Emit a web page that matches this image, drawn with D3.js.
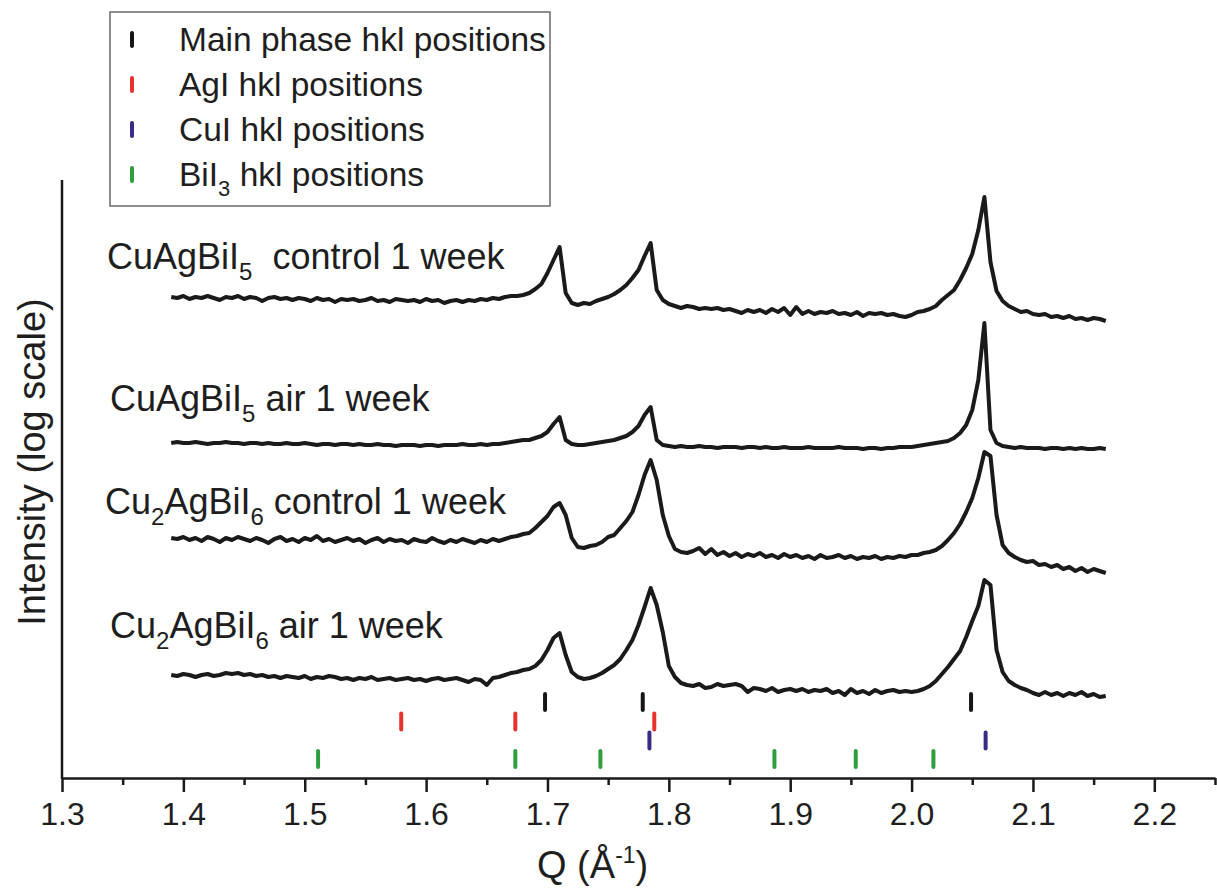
<!DOCTYPE html>
<html>
<head>
<meta charset="utf-8">
<script src="https://cdn.jsdelivr.net/npm/d3@7"></script>
<style>
  body { margin: 0; background: #fff; }
  text { font-family: "Liberation Sans", Arial, sans-serif; fill: #1e1e1e; }
</style>
</head>
<body>
<div id="chart"></div>
<script>
// Q grid of the scans (start + step), intensities are log, per pattern, stacked with offsets
var qStart = 1.39, qStep = 0.005;

var seriesNames = ["CuAgBiI5 control 1 week", "CuAgBiI5 air 1 week",
                   "Cu2AgBiI6 control 1 week", "Cu2AgBiI6 air 1 week"];
var offsets = [47.8, 33.3, 23.3, 9.8];

var s1 = [
  0.3, 0.2, 0.4, 0.1, 0.3, 0.2, 0.4, 0.2, 0.0, 0.3,
  0.2, 0.4, 0.1, 0.3, 0.2, -0.1, 0.2, 0.3, 0.1, 0.2,
  0.0, 0.2, 0.1, -0.1, 0.2, 0.0, 0.1, -0.2, 0.1, 0.0,
  0.1, -0.1, 0.0, 0.2, -0.1, 0.0, -0.2, 0.1, 0.0, -0.1,
  0.0, -0.2, 0.1, -0.1, 0.0, -0.3, -0.1, 0.0, -0.2, 0.0,
  -0.1, 0.1, 0.0, 0.2, 0.1, 0.3, 0.4, 0.4, 0.5, 0.7,
  1.1, 1.6, 2.7, 4.0, 5.3, 0.7, -0.3, -0.5, -0.3, -0.4,
  -0.1, 0.1, 0.3, 0.6, 1.0, 1.5, 2.2, 3.0, 4.4, 5.7,
  1.0, 0.0, -0.4, -0.6, -0.8, -0.6, -0.7, -0.9, -0.8, -0.9,
  -0.8, -1.0, -0.9, -1.1, -1.3, -1.0, -1.2, -1.0, -1.3, -0.9,
  -1.2, -0.8, -1.5, -0.7, -1.4, -1.1, -1.4, -1.2, -1.3, -1.1,
  -1.4, -1.3, -1.5, -1.2, -1.6, -1.3, -1.4, -1.3, -1.5, -1.4,
  -1.6, -1.7, -1.5, -1.2, -1.1, -0.9, -0.6, 0.0, 0.5, 1.0,
  2.0, 3.2, 4.6, 7.0, 10.3, 3.8, 0.9, -0.1, -0.6, -0.9,
  -1.2, -1.1, -1.4, -1.5, -1.4, -1.7, -1.6, -1.8, -1.6, -1.9,
  -1.8, -2.0, -1.8, -1.9, -2.1
];

var s2 = [
  0.2, 0.3, 0.2, 0.2, 0.3, 0.2, 0.1, 0.2, 0.2, 0.3,
  0.2, 0.2, 0.1, 0.2, 0.2, 0.1, 0.2, 0.1, 0.1, 0.2,
  0.1, 0.1, 0.2, 0.1, 0.0, 0.1, 0.1, 0.0, 0.1, 0.1,
  0.0, 0.1, 0.0, 0.0, 0.1, 0.0, 0.0, -0.1, 0.0, 0.0,
  0.0, -0.1, 0.0, 0.0, -0.1, 0.0, 0.0, 0.0, 0.1, 0.0,
  0.0, 0.1, 0.0, 0.1, 0.1, 0.2, 0.3, 0.4, 0.5, 0.5,
  0.7, 0.9, 1.3, 2.1, 2.8, 0.5, 0.1, 0.0, 0.0, 0.1,
  0.2, 0.3, 0.4, 0.5, 0.7, 0.9, 1.3, 1.9, 3.0, 3.8,
  0.5, 0.0, -0.1, -0.2, -0.1, -0.2, -0.2, -0.1, -0.2, -0.2,
  -0.3, -0.2, -0.2, -0.2, -0.3, -0.2, -0.2, -0.3, -0.2, -0.3,
  -0.3, -0.2, -0.3, -0.3, -0.3, -0.2, -0.3, -0.3, -0.3, -0.3,
  -0.2, -0.3, -0.3, -0.3, -0.4, -0.3, -0.3, -0.4, -0.3, -0.3,
  -0.2, -0.2, -0.2, -0.1, 0.0, 0.1, 0.2, 0.3, 0.4, 0.7,
  1.2, 2.0, 3.5, 6.5, 12.2, 1.5, 0.2, -0.1, -0.2, -0.3,
  -0.2, -0.3, -0.3, -0.3, -0.4, -0.3, -0.3, -0.4, -0.3, -0.4,
  -0.3, -0.4, -0.4, -0.3, -0.4
];

var s3 = [
  0.7, 0.6, 0.8, 0.5, 0.7, 0.4, 0.8, 0.6, 0.3, 0.7,
  0.5, 0.8, 0.6, 0.4, 0.7, 0.5, 0.2, 0.6, 0.8, 0.4,
  0.6, 0.3, 0.7, 0.5, 0.9, 0.4, 0.6, 0.3, 0.5, 0.7,
  0.4, 0.6, 0.2, 0.5, 0.7, 0.3, 0.6, 0.4, 0.5, 0.2,
  0.6, 0.4, 0.3, 0.7, 0.4, 0.2, 0.5, 0.3, 0.6, 0.4,
  0.2, 0.5, 0.3, 0.6, 0.4, 0.6, 0.8, 0.9, 1.1, 1.2,
  1.7, 2.3, 2.9, 3.8, 4.2, 3.0, 0.7, -0.2, -0.3, -0.1,
  0.0, 0.3, 0.8, 1.0, 1.7, 2.4, 3.3, 5.0, 7.0, 8.5,
  6.5, 3.0, 0.9, -0.4, -0.7, -0.8, -0.6, -0.3, -0.9, -0.4,
  -1.0, -0.7, -1.1, -0.8, -1.2, -0.9, -1.1, -0.8, -1.2, -1.0,
  -1.3, -0.9, -1.2, -1.0, -1.3, -1.1, -1.4, -1.0, -1.3, -1.2,
  -1.0, -1.3, -1.1, -1.4, -1.2, -1.3, -1.1, -1.4, -1.2, -1.3,
  -1.1, -1.2, -1.0, -1.0, -0.8, -0.7, -0.5, -0.1, 0.5, 1.2,
  2.1, 3.3, 4.7, 6.7, 9.3, 8.9, 3.0, 0.0, -0.8, -1.2,
  -1.5, -1.7, -1.6, -2.0, -1.9, -2.2, -2.0, -2.4, -2.2, -2.6,
  -2.3, -2.7, -2.4, -2.6, -2.8
];

var s4 = [
  0.5, 0.4, 0.6, 0.5, 0.3, 0.5, 0.6, 0.4, 0.5, 0.7,
  0.6, 0.7, 0.5, 0.6, 0.4, 0.5, 0.3, 0.4, 0.2, 0.4,
  0.3, 0.2, 0.4, 0.1, 0.3, 0.2, 0.4, 0.3, 0.1, 0.2,
  0.0, 0.2, 0.1, 0.3, 0.0, 0.1, 0.2, 0.0, 0.1, 0.2,
  0.0, 0.1, -0.1, 0.1, 0.2, 0.0, 0.1, 0.2, 0.0, -0.2,
  0.1, 0.0, -0.5, 0.2, 0.3, 0.5, 0.7, 0.8, 1.0, 1.1,
  1.4, 2.0, 3.0, 4.2, 4.7, 2.5, 0.8, 0.3, 0.1, 0.2,
  0.4, 0.7, 1.1, 1.5, 2.1, 3.0, 4.0, 5.5, 7.3, 9.2,
  7.5, 4.8, 1.4, 0.3, -0.3, -0.5, -0.6, -0.4, -0.8, -0.7,
  -0.4, -0.6, -0.5, -0.4, -0.6, -1.2, -0.8, -0.9, -1.1, -0.8,
  -1.2, -1.0, -0.9, -1.1, -0.9, -1.2, -1.0, -1.1, -0.9, -1.3,
  -1.1, -1.5, -0.9, -1.3, -1.1, -1.4, -1.0, -1.3, -1.1, -1.0,
  -1.2, -1.1, -1.2, -1.1, -0.9, -0.6, -0.1, 0.6, 1.3, 2.1,
  2.9, 4.3, 5.9, 7.4, 10.0, 9.5, 3.0, 0.8, -0.1, -0.5,
  -0.8, -1.0, -1.3, -1.5, -1.2, -1.5, -1.3, -1.6, -1.3, -1.5,
  -1.2, -1.6, -1.4, -1.7, -1.6
];

// reflection markers (Q of hkl positions)
var mainHkl = [1.698, 1.7785, 2.049];
var agiHkl = [1.5795, 1.6735, 1.788];
var cuiHkl = [1.784, 2.061];
var bii3Hkl = [1.511, 1.6735, 1.7436, 1.887, 1.954, 2.018];

var xTicks = [1.3, 1.4, 1.5, 1.6, 1.7, 1.8, 1.9, 2.0, 2.1, 2.2];
var xMinor = [1.35, 1.45, 1.55, 1.65, 1.75, 1.85, 1.95, 2.05, 2.15, 2.25];

var W = 1217, H = 888;
var margin = {top: 180, right: 2, bottom: 110, left: 62};
var width = W - margin.left - margin.right,
    height = H - margin.top - margin.bottom;

var svg = d3.select("#chart").append("svg")
    .attr("width", W)
    .attr("height", H);

var g = svg.append("g")
    .attr("transform", "translate(" + margin.left + "," + margin.top + ")");

var x = d3.scaleLinear().domain([1.3, 2.25]).range([0, width]);
var y = d3.scaleLinear().domain([0, 59.8]).range([height, 0]);

// stacked patterns
var allSeries = [s1, s2, s3, s4];
var line = d3.line()
    .x(function (d) { return x(d.q); })
    .y(function (d) { return y(d.v); });

allSeries.forEach(function (vals, k) {
  var pts = vals.map(function (v, i) {
    return {q: qStart + i * qStep, v: v + offsets[k]};
  });
  g.append("path")
    .datum(pts)
    .attr("fill", "none")
    .attr("stroke", "#1a1a1a")
    .attr("stroke-width", 4)
    .attr("stroke-linejoin", "round")
    .attr("d", line);
});

// hkl tick rows (row = centre of the row in intensity units)
var hklRows = [
  {name: "Main phase hkl positions", q: mainHkl, color: "#161616", row: 7.6, sub: null},
  {name: "AgI hkl positions", q: agiHkl, color: "#e8322e", row: 5.65, sub: null},
  {name: "CuI hkl positions", q: cuiHkl, color: "#3b2a86", row: 3.75, sub: null},
  {name: "BiI", q: bii3Hkl, color: "#2e9e3e", row: 1.9, sub: "3"}
];

hklRows.forEach(function (r) {
  g.selectAll(null)
    .data(r.q)
    .enter().append("line")
    .attr("x1", function (d) { return x(d); })
    .attr("x2", function (d) { return x(d); })
    .attr("y1", y(r.row) - 8)
    .attr("y2", y(r.row) + 8)
    .attr("stroke", r.color)
    .attr("stroke-width", 4)
    .attr("stroke-linecap", "round");
});

// axes
var xAxis = d3.axisBottom(x)
    .tickValues(xTicks)
    .tickSize(14)
    .tickSizeOuter(0)
    .tickPadding(10)
    .tickFormat(d3.format(".1f"));

var gx = g.append("g")
    .attr("transform", "translate(0," + height + ")")
    .call(xAxis);
gx.select(".domain").attr("stroke", "#1a1a1a").attr("stroke-width", 2.5);
gx.selectAll(".tick line").attr("stroke", "#1a1a1a").attr("stroke-width", 2.5);
gx.selectAll(".tick text")
    .style("font-family", "'Liberation Sans', Arial, sans-serif")
    .style("font-size", "32px")
    .attr("fill", "#1e1e1e");

var gxm = g.append("g")
    .attr("transform", "translate(0," + height + ")")
    .call(d3.axisBottom(x).tickValues(xMinor).tickSize(7).tickSizeOuter(0).tickFormat(""));
gxm.select(".domain").remove();
gxm.selectAll(".tick line").attr("stroke", "#1a1a1a").attr("stroke-width", 2.5);

g.append("line")
    .attr("x1", 0).attr("x2", 0)
    .attr("y1", 0).attr("y2", height + 1)
    .attr("stroke", "#1a1a1a")
    .attr("stroke-width", 2.5);

// axis titles
var qt = svg.append("text")
    .attr("x", 537)
    .attr("y", 878)
    .style("font-size", "38px");
qt.append("tspan").text("Q (Å");
qt.append("tspan").attr("dy", -15).style("font-size", "23px").text("-1");
qt.append("tspan").attr("dy", 15).text(")");

svg.append("text")
    .attr("transform", "translate(45,462) rotate(-90)")
    .attr("text-anchor", "middle")
    .style("font-size", "38px")
    .text("Intensity (log scale)");

// pattern labels, with subscripts
var labels = [
  {parts: [["CuAgBiI", 0], ["5", 1], ["  control 1 week", 0]], x: 107, y: 269},
  {parts: [["CuAgBiI", 0], ["5", 1], [" air 1 week", 0]], x: 110, y: 411},
  {parts: [["Cu", 0], ["2", 1], ["AgBiI", 0], ["6", 1], [" control 1 week", 0]], x: 105, y: 514},
  {parts: [["Cu", 0], ["2", 1], ["AgBiI", 0], ["6", 1], [" air 1 week", 0]], x: 110, y: 638}
];

function subText(sel, parts, big, small, shift) {
  var down = false;
  parts.forEach(function (p) {
    var t = sel.append("tspan").text(p[0]);
    if (p[1] && !down) { t.attr("dy", shift).style("font-size", small + "px"); down = true; }
    else if (p[1]) { t.style("font-size", small + "px"); }
    else if (down) { t.attr("dy", -shift).style("font-size", big + "px"); down = false; }
  });
}

labels.forEach(function (l) {
  var t = svg.append("text")
      .attr("x", l.x)
      .attr("y", l.y)
      .attr("xml:space", "preserve")
      .style("white-space", "pre")
      .style("font-size", "36px");
  subText(t, l.parts, 36, 24, 11);
});

// legend
var leg = svg.append("g");
leg.append("rect")
    .attr("x", 110).attr("y", 12)
    .attr("width", 440).attr("height", 194)
    .attr("fill", "#fff")
    .attr("stroke", "#6a6a6a")
    .attr("stroke-width", 1.5);

hklRows.forEach(function (r, i) {
  var by = 51 + i * 45;
  leg.append("line")
    .attr("x1", 132).attr("x2", 132)
    .attr("y1", by - 18).attr("y2", by - 5)
    .attr("stroke", r.color)
    .attr("stroke-width", 4)
    .attr("stroke-linecap", "round");
  var t = leg.append("text")
    .attr("x", 179).attr("y", by)
    .style("font-size", "33.5px");
  if (r.sub) {
    subText(t, [[r.name, 0], [r.sub, 1], [" hkl positions", 0]], 33.5, 22, 10);
  } else {
    t.text(r.name);
  }
});
</script>
</body>
</html>
